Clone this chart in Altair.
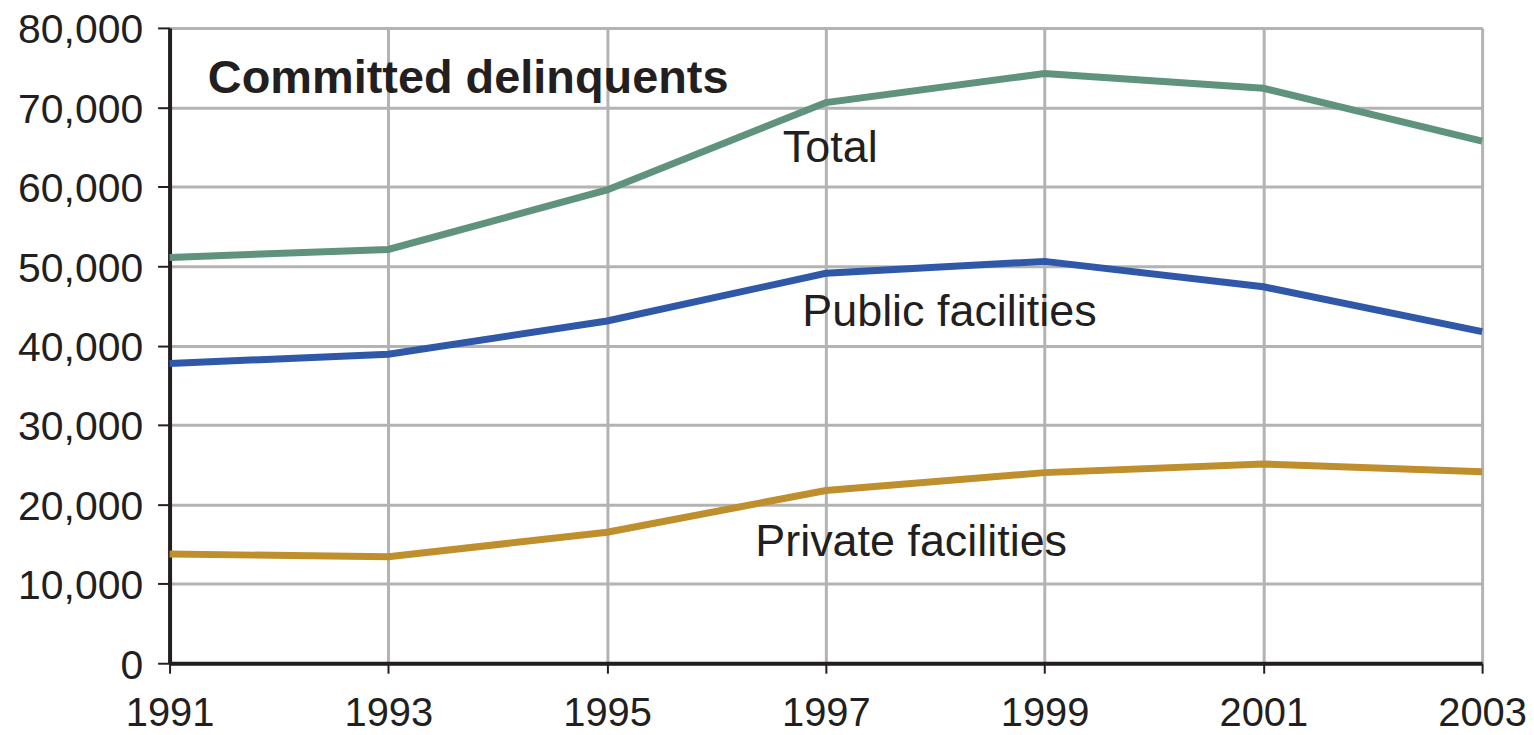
import altair as alt
import pandas as pd

years = [1991, 1993, 1995, 1997, 1999, 2001, 2003]
total = [51100, 52100, 59600, 70600, 74250, 72400, 65750]
public = [37750, 38900, 43100, 49100, 50600, 47400, 41750]
private = [13750, 13400, 16500, 21750, 24000, 25100, 24100]
series_names = ["Total", "Public facilities", "Private facilities"]
series_colors = ["#5f937b", "#2f58a9", "#bf8f2d"]

rows = []
for name, vals in zip(series_names, [total, public, private]):
    for y, v in zip(years, vals):
        rows.append({"year": y, "value": v, "series": name})
df = pd.DataFrame(rows)

label_text = ["Total", "Public facilities", "Private facilities"]
label_year = [1997.04, 1998.13, 1997.78]
label_value = [64900, 44250, 15250]
labels = pd.DataFrame({"text": label_text, "year": label_year, "value": label_value})

title_df = pd.DataFrame({"text": ["Committed delinquents"], "year": [1991.35], "value": [73600]})

FONT = "Liberation Sans"

x = alt.X("year:Q", scale=alt.Scale(domain=[1991, 2003], nice=False),
          axis=alt.Axis(values=years, format="d", title=None, grid=True,
                        gridColor="#b3b3b3", gridWidth=3,
                        domainColor="#231f20", domainWidth=4,
                        tickColor="#231f20", tickWidth=2, tickSize=10,
                        labelFontSize=40, labelFont=FONT, labelColor="#231f20",
                        labelPadding=20, labelFlush=False))
y = alt.Y("value:Q", scale=alt.Scale(domain=[0, 80000], nice=False),
          axis=alt.Axis(values=list(range(0, 80001, 10000)), format=",d", title=None,
                        grid=True, gridColor="#b3b3b3", gridWidth=3,
                        domainColor="#231f20", domainWidth=4,
                        tickColor="#231f20", tickWidth=2, tickSize=12,
                        labelFontSize=41, labelFont=FONT, labelColor="#231f20",
                        labelPadding=15, labelOffset=3))

lines = alt.Chart(df).mark_line(strokeWidth=7, interpolate="linear").encode(
    x=x, y=y,
    color=alt.Color("series:N", scale=alt.Scale(domain=series_names, range=series_colors), legend=None),
)

text = alt.Chart(labels).mark_text(fontSize=45, font=FONT, color="#231f20", align="center", baseline="middle").encode(
    x="year:Q", y="value:Q", text="text:N")

title = alt.Chart(title_df).mark_text(fontSize=47, font=FONT, fontWeight="bold", color="#231f20", align="left", baseline="middle").encode(
    x="year:Q", y="value:Q", text="text:N")

chart = alt.layer(lines, text, title).properties(
    width=1316, height=637,
    autosize=alt.AutoSizeParams(type="none"),
    padding={"left": 162, "top": 19, "right": 44, "bottom": 69},
).configure_view(stroke=None).configure(background="white")

chart.save("out.html", embed_options={"renderer": "svg", "actions": False})
